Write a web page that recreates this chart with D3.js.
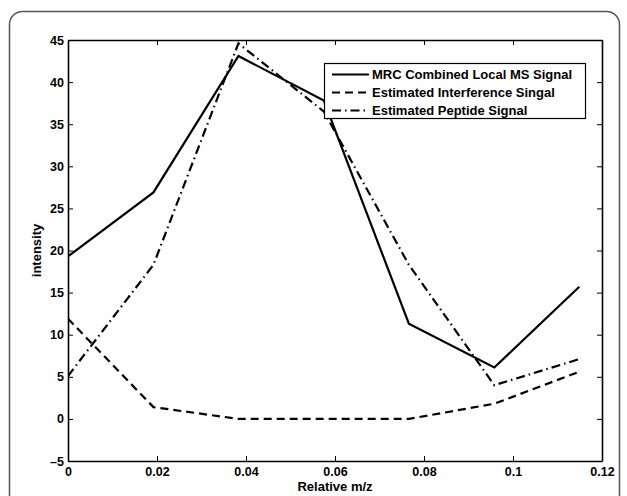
<!DOCTYPE html>
<html><head><meta charset="utf-8">
<script src="https://cdn.jsdelivr.net/npm/d3@7"></script>
<style>
body{margin:0;background:#fff;}
svg text{font-family:"Liberation Sans",Arial,sans-serif;font-weight:bold;fill:#000;}
</style></head>
<body>
<svg id="chart" width="627" height="496"></svg>
<script>
// Data
const relMz = [0, 0.0192, 0.0383, 0.0575, 0.0766, 0.0958, 0.1149];
const mrcCombined = [19.3, 26.9, 43.1, 37.8, 11.3, 6.1, 15.7];
const interference = [11.9, 1.4, 0.0, 0.0, 0.0, 1.8, 5.6];
const peptide = [5.1, 18.3, 44.6, 36.5, 18.3, 4.0, 7.1];
const xTicks = [0, 0.02, 0.04, 0.06, 0.08, 0.1, 0.12];
const yTicks = [-5, 0, 5, 10, 15, 20, 25, 30, 35, 40, 45];
const seriesNames = ["MRC Combined Local MS Signal", "Estimated Interference Singal", "Estimated Peptide Signal"];

const W = 627, H = 496;
const m = {left: 68, right: 25, top: 40, bottom: 35};
const svg = d3.select("#chart");

// outer rounded frame
svg.append("rect").attr("x", 9.5).attr("y", 11.5).attr("width", 610).attr("height", 520)
  .attr("rx", 13).attr("fill", "none").attr("stroke", "#555").attr("stroke-width", 1.5);

const x = d3.scaleLinear().domain([0, 0.12]).range([m.left, W - m.right]);
const y = d3.scaleLinear().domain([-5, 45]).range([H - m.bottom, m.top]);

const fmtX = d => d === 0 ? "0" : String(+d.toFixed(2));
const fmtY = d => d < 0 ? "\u2013" + Math.abs(d) : String(d);

// axes with inward ticks
const gx = svg.append("g").attr("transform", `translate(0,${H - m.bottom})`)
  .call(d3.axisBottom(x).tickValues(xTicks).tickSizeInner(-5).tickSizeOuter(0).tickPadding(6).tickFormat(fmtX));
const gxTop = svg.append("g").attr("transform", `translate(0,${m.top})`)
  .call(d3.axisTop(x).tickValues(xTicks).tickSizeInner(-5).tickSizeOuter(0).tickFormat(""));
const gy = svg.append("g").attr("transform", `translate(${m.left},0)`)
  .call(d3.axisLeft(y).tickValues(yTicks).tickSizeInner(-5).tickSizeOuter(0).tickPadding(4).tickFormat(fmtY));
const gyR = svg.append("g").attr("transform", `translate(${W - m.right},0)`)
  .call(d3.axisRight(y).tickValues(yTicks).tickSizeInner(-5).tickSizeOuter(0).tickFormat(""));
[gx, gxTop, gy, gyR].forEach(g => {
  g.select(".domain").attr("stroke", "#000").attr("stroke-width", 1.6);
  g.selectAll(".tick line").attr("stroke", "#000").attr("stroke-width", 1);
  g.selectAll("text").style("font-size", "12.5px").style("font-family", "'Liberation Sans',Arial,sans-serif").style("font-weight", "bold");
});

// lines
const styles = [
  {data: mrcCombined, dash: null},
  {data: interference, dash: "8,5"},
  {data: peptide, dash: "9,4,1.5,4"}
];
svg.append("clipPath").attr("id", "clip").append("rect")
  .attr("x", m.left).attr("y", m.top).attr("width", W - m.left - m.right).attr("height", H - m.top - m.bottom);
const line = d3.line().x((d, i) => x(relMz[i])).y(d => y(d));
styles.forEach(s => {
  svg.append("path").datum(s.data).attr("d", line).attr("fill", "none")
    .attr("stroke", "#000").attr("stroke-width", 2.2).attr("stroke-dasharray", s.dash)
    .attr("clip-path", "url(#clip)");
});

// axis labels
svg.append("text").attr("x", (m.left + W - m.right) / 2).attr("y", 491).attr("text-anchor", "middle")
  .style("font-size", "13px").text("Relative m/z");
svg.append("text").attr("transform", `translate(41,${(m.top + H - m.bottom) / 2}) rotate(-90)`)
  .attr("text-anchor", "middle").style("font-size", "13px").text("intensity");

// legend
const lg = svg.append("g");
lg.append("rect").attr("x", 324.5).attr("y", 63.5).attr("width", 261).attr("height", 55)
  .attr("fill", "#fff").attr("stroke", "#000").attr("stroke-width", 1.2);
styles.forEach((s, i) => {
  const yy = 74.5 + i * 18;
  lg.append("line").attr("x1", 332).attr("x2", 369).attr("y1", yy).attr("y2", yy)
    .attr("stroke", "#000").attr("stroke-width", 2.2).attr("stroke-dasharray", s.dash);
  lg.append("text").attr("x", 372).attr("y", yy + 4.5).style("font-size", "13px").text(seriesNames[i]);
});
</script>
</body></html>
